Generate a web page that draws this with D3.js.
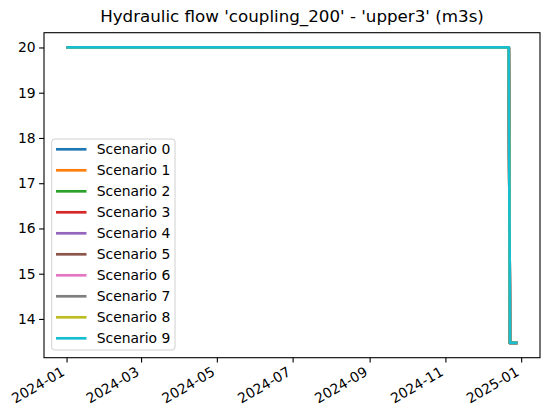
<!DOCTYPE html>
<html><head><meta charset="utf-8">
<script src="https://cdn.jsdelivr.net/npm/d3@7"></script>
<style>body{margin:0;background:#fff}svg{display:block}text{font-family:"DejaVu Sans",sans-serif;fill:#000}</style>
</head><body><div id="chart"></div>
<script>
const titleText = "Hydraulic flow 'coupling_200' - 'upper3' (m3s)";
const seriesNames = ["Scenario 0","Scenario 1","Scenario 2","Scenario 3","Scenario 4","Scenario 5","Scenario 6","Scenario 7","Scenario 8","Scenario 9"];
const colors = ["#1f77b4","#ff7f0e","#2ca02c","#d62728","#9467bd","#8c564b","#e377c2","#7f7f7f","#bcbd22","#17becf"];
const dates = ["2024-01-01","2024-12-22","2024-12-23","2024-12-29"];
const s0 = [20, 20, 13.47, 13.47];
const s1 = [20, 20, 13.47, 13.47];
const s2 = [20, 20, 13.47, 13.47];
const s3 = [20, 20, 13.47, 13.47];
const s4 = [20, 20, 13.47, 13.47];
const s5 = [20, 20, 13.47, 13.47];
const s6 = [20, 20, 13.47, 13.47];
const s7 = [20, 20, 13.47, 13.47];
const s8 = [20, 20, 13.47, 13.47];
const s9 = [20, 20, 13.47, 13.47];
const seriesValues = [s0,s1,s2,s3,s4,s5,s6,s7,s8,s9];
const yTicks = [14,15,16,17,18,19,20];
const xTickDates = ["2024-01-01","2024-03-01","2024-05-01","2024-07-01","2024-09-01","2024-11-01","2025-01-01"];

const W = 550, H = 419;
const L = 44, R = 540, T = 32.7, B = 357.7;
const svg = d3.select("#chart").append("svg").attr("width", W).attr("height", H);
const parse = d3.utcParse("%Y-%m-%d");
const dts = dates.map(parse);
const x0 = dts[0], x1 = dts[dts.length-1];
const span = x1 - x0;
const x = d3.scaleUtc().domain([new Date(+x0 - 0.05*span), new Date(+x1 + 0.05*span)]).range([L, R]);
const allV = seriesValues.flat();
const vmin = d3.min(allV), vmax = d3.max(allV), vr = vmax - vmin;
const y = d3.scaleLinear().domain([vmin - 0.05*vr, vmax + 0.05*vr]).range([B, T]);

const fs = 13.9;
// lines
const line = d3.line().x((d,i)=>x(dts[i])).y(d=>y(d));
const g = svg.append("g");
seriesValues.forEach((vals, k) => {
  g.append("path").attr("d", line(vals)).attr("fill","none").attr("stroke", colors[k])
    .attr("stroke-width", 2.7).attr("stroke-linejoin","round").attr("stroke-linecap","butt");
});

// spines
svg.append("rect").attr("x", L).attr("y", T).attr("width", R-L).attr("height", B-T)
  .attr("fill","none").attr("stroke","#000").attr("stroke-width",1.1);

// y axis
const yAxis = d3.axisLeft(y).tickValues(yTicks).tickSize(4.9).tickPadding(3.5).tickFormat(d3.format("d"));
const ya = svg.append("g").attr("transform", `translate(${L},0)`).call(yAxis);
ya.select(".domain").remove();
ya.selectAll("line").attr("stroke","#000").attr("stroke-width",1.1);
ya.selectAll("text").style("font-size", fs+"px").attr("font-family","DejaVu Sans");

// x axis
const xAxis = d3.axisBottom(x).tickValues(xTickDates.map(parse)).tickSize(4.9).tickFormat(d3.utcFormat("%Y-%m"));
const xa = svg.append("g").attr("transform", `translate(0,${B})`).call(xAxis);
xa.select(".domain").remove();
xa.selectAll("line").attr("stroke","#000").attr("stroke-width",1.1);
xa.selectAll("text").style("font-size", fs+"px").attr("font-family","DejaVu Sans")
  .attr("text-anchor","end").attr("y",0).attr("dy",0)
  .attr("transform","translate(-1.5,17) rotate(-30)");

// title
svg.append("text").attr("x", (L+R)/2).attr("y", 21.5).attr("text-anchor","middle")
  .style("font-size","16.7px").text(titleText);

// legend
const lg = svg.append("g");
lg.append("rect").attr("x", 51.7).attr("y", 139).attr("width", 123.3).attr("height", 211).attr("rx", 3)
  .attr("fill","#fff").attr("fill-opacity",0.8).attr("stroke","#d0d0d0").attr("stroke-width",1);
seriesNames.forEach((n,k) => {
  const yy = 149.3 + k*21;
  lg.append("line").attr("x1",56).attr("x2",86.5).attr("y1",yy).attr("y2",yy)
    .attr("stroke",colors[k]).attr("stroke-width",2.7);
  lg.append("text").attr("x",96.7).attr("y",yy).attr("dy","0.36em").style("font-size",fs+"px").text(n);
});
</script></body></html>
